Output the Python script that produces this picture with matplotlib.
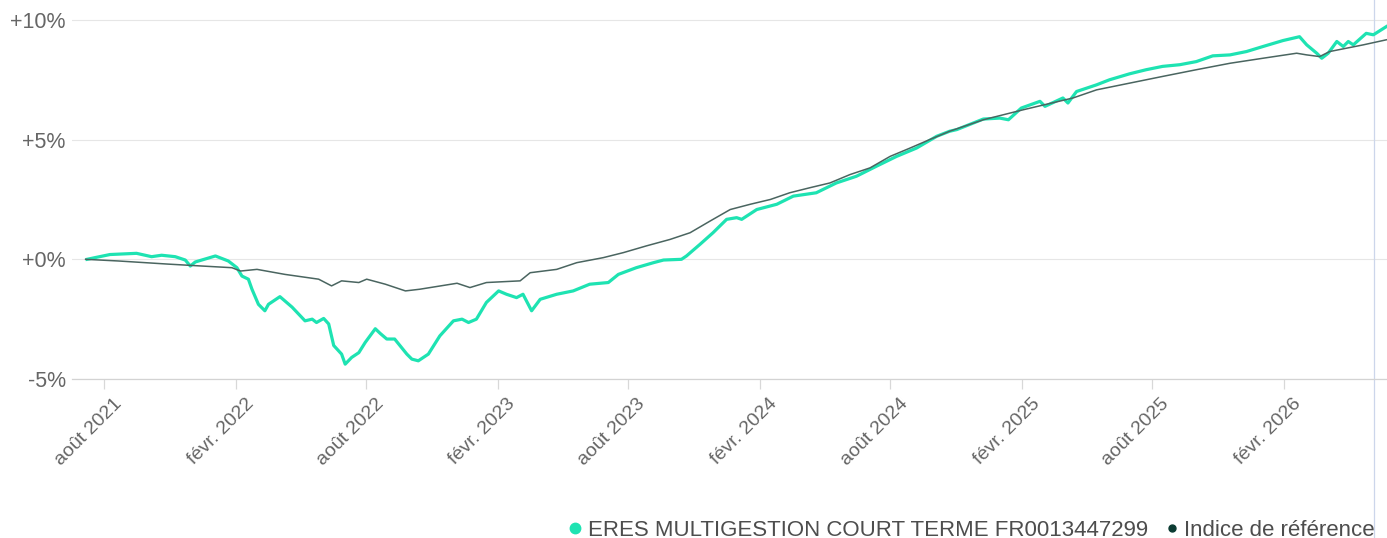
#fund vs benchmark performance since inception
import matplotlib
matplotlib.use("Agg")
import matplotlib.pyplot as plt
import matplotlib.transforms as mtransforms
from matplotlib.lines import Line2D
import pandas as pd

plt.rcParams['font.family'] = ['Liberation Sans', 'DejaVu Sans']

fund_name = "ERES MULTIGESTION COURT TERME FR0013447299"
bench_name = "Indice de référence"

fund_dates = ["2021-07-08", "2021-07-19", "2021-08-09", "2021-09-15", "2021-10-06", "2021-10-20",
              "2021-11-08", "2021-11-22", "2021-11-29", "2021-12-06", "2022-01-03", "2022-01-21",
              "2022-02-02", "2022-02-09", "2022-02-18", "2022-02-23", "2022-03-04", "2022-03-13",
              "2022-03-18", "2022-04-03", "2022-04-20", "2022-05-08", "2022-05-18", "2022-05-24",
              "2022-06-03", "2022-06-10", "2022-06-17", "2022-06-28", "2022-07-03", "2022-07-12",
              "2022-07-22", "2022-07-31", "2022-08-14", "2022-08-21", "2022-08-30", "2022-09-10",
              "2022-09-27", "2022-10-04", "2022-10-13", "2022-10-27", "2022-11-12", "2022-12-01",
              "2022-12-13", "2022-12-22", "2023-01-02", "2023-01-16", "2023-02-02", "2023-02-13",
              "2023-02-27", "2023-03-08", "2023-03-20", "2023-04-01", "2023-04-24", "2023-05-17",
              "2023-06-09", "2023-07-05", "2023-07-19", "2023-08-13", "2023-09-06", "2023-09-20",
              "2023-10-15", "2023-10-22", "2023-11-10", "2023-11-28", "2023-12-17", "2023-12-31",
              "2024-01-07", "2024-01-28", "2024-02-25", "2024-03-19", "2024-04-20", "2024-05-18",
              "2024-06-15", "2024-07-13", "2024-08-10", "2024-09-07", "2024-10-05", "2024-10-23",
              "2024-11-02", "2024-12-09", "2025-01-01", "2025-01-13", "2025-01-31", "2025-02-26",
              "2025-03-05", "2025-03-30", "2025-04-06", "2025-04-18", "2025-05-16", "2025-06-03",
              "2025-07-01", "2025-07-24", "2025-08-16", "2025-09-09", "2025-10-02", "2025-10-25",
              "2025-11-18", "2025-12-11", "2026-01-03", "2026-01-31", "2026-02-23", "2026-03-05",
              "2026-03-19", "2026-03-26", "2026-04-04", "2026-04-16", "2026-04-25", "2026-05-02",
              "2026-05-09", "2026-05-27", "2026-06-06", "2026-06-24"]
fund_perf = [0.00, 0.07, 0.20, 0.25, 0.11, 0.17,
             0.11, -0.03, -0.28, -0.11, 0.14, -0.07,
             -0.35, -0.70, -0.83, -1.25, -1.88, -2.15,
             -1.88, -1.56, -2.00, -2.57, -2.50, -2.64,
             -2.47, -2.70, -3.60, -3.96, -4.38, -4.10,
             -3.90, -3.47, -2.90, -3.10, -3.33, -3.33,
             -3.96, -4.17, -4.24, -3.96, -3.20, -2.57,
             -2.50, -2.64, -2.50, -1.80, -1.32, -1.46,
             -1.60, -1.46, -2.15, -1.67, -1.46, -1.32,
             -1.04, -0.97, -0.63, -0.35, -0.14, -0.03,
             0.00, 0.14, 0.63, 1.11, 1.67, 1.74,
             1.67, 2.08, 2.30, 2.64, 2.78, 3.19,
             3.47, 3.89, 4.30, 4.65, 5.14, 5.35,
             5.42, 5.86, 5.90, 5.83, 6.32, 6.60,
             6.39, 6.74, 6.53, 7.01, 7.29, 7.50,
             7.75, 7.92, 8.06, 8.13, 8.26, 8.50,
             8.54, 8.68, 8.89, 9.14, 9.30, 8.96,
             8.61, 8.40, 8.61, 9.10, 8.89, 9.10,
             8.96, 9.44, 9.38, 9.72]

bench_dates = ["2021-07-06", "2021-08-21", "2021-10-29", "2021-12-15", "2022-01-26", "2022-02-07",
               "2022-03-02", "2022-04-10", "2022-05-27", "2022-06-14", "2022-06-28", "2022-07-22",
               "2022-08-02", "2022-08-28", "2022-09-25", "2022-10-15", "2022-12-06", "2022-12-24",
               "2023-01-16", "2023-03-04", "2023-03-18", "2023-04-24", "2023-05-22", "2023-06-28",
               "2023-07-26", "2023-08-27", "2023-09-29", "2023-10-27", "2023-11-24", "2023-12-22",
               "2024-01-19", "2024-02-16", "2024-03-14", "2024-04-11", "2024-05-09", "2024-06-06",
               "2024-07-04", "2024-08-01", "2024-08-29", "2024-09-25", "2024-10-23", "2024-12-09",
               "2025-02-03", "2025-04-13", "2025-05-16", "2025-07-01", "2025-08-16", "2025-10-02",
               "2025-11-18", "2026-01-03", "2026-02-19", "2026-03-05", "2026-03-23", "2026-04-06",
               "2026-05-23", "2026-06-24"]
bench_perf = [0.00, -0.07, -0.20, -0.28, -0.35, -0.49,
              -0.42, -0.63, -0.83, -1.11, -0.90, -0.97,
              -0.83, -1.04, -1.32, -1.25, -1.00, -1.18,
              -0.97, -0.90, -0.56, -0.42, -0.14, 0.07,
              0.28, 0.56, 0.83, 1.11, 1.60, 2.08,
              2.30, 2.50, 2.78, 2.99, 3.19, 3.54,
              3.82, 4.30, 4.65, 5.00, 5.35, 5.83,
              6.25, 6.74, 7.08, 7.36, 7.64, 7.92,
              8.19, 8.40, 8.61, 8.54, 8.47, 8.68,
              8.96, 9.17]

tick_dates = ["2021-08-01", "2022-02-01", "2022-08-01", "2023-02-01", "2023-08-01",
              "2024-02-01", "2024-08-01", "2025-02-01", "2025-08-01", "2026-02-01"]
tick_labels = ["août 2021", "févr. 2022", "août 2022", "févr. 2023", "août 2023",
               "févr. 2024", "août 2024", "févr. 2025", "août 2025", "févr. 2026"]
y_ticks = [-5, 0, 5, 10]
y_labels = ["-5%", "+0%", "+5%", "+10%"]

cursor_date = "2026-06-07"  #the hover line on the right
x_start = "2021-06-17"
x_end = "2026-06-25"

fund_color = "#1ee3b2"
bench_color = "#4a6560"
bench_dot = "#0b3b32"
axis_color = "#ccd6eb"
grid_color = "#e6e6e6"

fig = plt.figure(figsize=(13.87, 5.38), dpi=100)
ax = fig.add_axes([72/1387, 159/538, 1 - 72/1387, 379/538])

ax.plot(pd.to_datetime(bench_dates), bench_perf, color=bench_color, lw=1.1, zorder=3)
ax.plot(pd.to_datetime(fund_dates), fund_perf, color=fund_color, lw=2.3, zorder=2,
        solid_joinstyle='round')

ax.set_xlim(pd.to_datetime(x_start), pd.to_datetime(x_end))
ax.set_ylim(-5, 10 + 20/24)

for s in ["top", "right", "left"]:
    ax.spines[s].set_visible(False)
ax.spines["bottom"].set_color("#d3d3d3")
ax.spines["bottom"].set_linewidth(0.9)

ax.set_yticks(y_ticks)
ax.set_yticklabels(y_labels)
ax.yaxis.grid(True, color=grid_color, lw=0.8)
ax.set_axisbelow(True)
ax.tick_params(axis="y", length=0, pad=4.5, labelsize=15.5, labelcolor="#666666")

ax.set_xticks(pd.to_datetime(tick_dates))
ax.set_xticklabels(tick_labels, rotation=45, ha="right", va="top",
                   rotation_mode="anchor")
ax.tick_params(axis="x", length=7.5, width=0.9, color="#d8d8d8", pad=4,
               labelsize=14, labelcolor="#666666")
#highcharts puts the rotated labels a bit right of the tick
shift = mtransforms.ScaledTranslation(9/100, 0, fig.dpi_scale_trans)
for lab in ax.get_xticklabels():
    lab.set_transform(lab.get_transform() + shift)

ax.axvline(pd.to_datetime(cursor_date), ymin=-159/379, ymax=1, color=axis_color,
           lw=0.9, clip_on=False, zorder=1)

handles = [Line2D([], [], ls="none", marker="o", ms=7.5, color=fund_color),
           Line2D([], [], ls="none", marker="o", ms=5, color=bench_dot)]
fig.legend(handles, [fund_name, bench_name], loc="lower right",
           bbox_to_anchor=(1395/1387, -0.042), ncol=2, frameon=False,
           fontsize=16, labelcolor="#4d4d4d", handletextpad=0.05,
           columnspacing=0.6, handlelength=1.0)

fig.savefig("out.png", dpi=100)
